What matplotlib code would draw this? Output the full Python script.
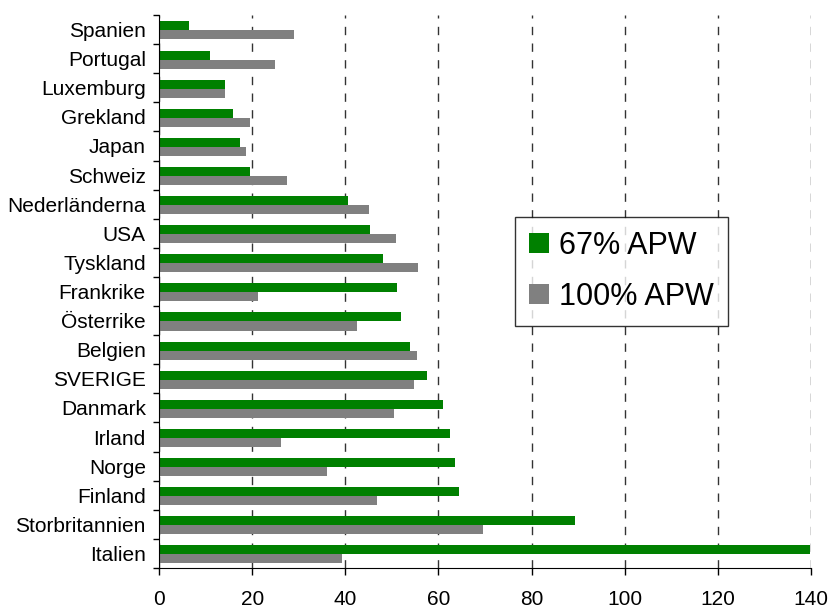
import numpy as np
import matplotlib.pyplot as plt
from matplotlib.ticker import FixedLocator

plt.rcParams['font.family'] = ['Liberation Sans', 'DejaVu Sans']

countries = ["Spanien", "Portugal", "Luxemburg", "Grekland", "Japan", "Schweiz",
             "Nederländerna", "USA", "Tyskland", "Frankrike", "Österrike",
             "Belgien", "SVERIGE", "Danmark", "Irland", "Norge", "Finland",
             "Storbritannien", "Italien"]
apw67 = [6.4, 10.9, 14.1, 15.8, 17.3, 19.5, 40.5, 45.4, 48.0, 51.0, 51.9,
         53.8, 57.5, 60.9, 62.4, 63.5, 64.5, 89.4, 139.8]
apw100 = [28.9, 25.0, 14.1, 19.5, 18.6, 27.4, 45.0, 50.8, 55.7, 21.2, 42.6,
          55.3, 54.7, 50.4, 26.1, 36.0, 46.9, 69.5, 39.2]

fig = plt.figure(figsize=(8.32, 6.08), dpi=100)
ax = fig.add_axes([159 / 832, 40 / 608, 652 / 832, 553 / 608])

y = np.arange(len(countries))
h = 0.31
ax.barh(y - h / 2 + 0.03, apw67, height=h, color="#008000", label="67% APW")
ax.barh(y + h / 2 + 0.03, apw100, height=h, color="#808080", label="100% APW")

ax.set_xlim(0, 140)
ax.set_ylim(len(countries) - 0.5, -0.5)
ax.set_xticks(range(0, 141, 20))
ax.set_yticks(y)
ax.set_yticklabels(countries)
ax.yaxis.set_minor_locator(FixedLocator(np.arange(-0.5, len(countries), 1)))
ax.tick_params(axis="y", which="major", length=0, pad=9.5, labelsize=15)
ax.tick_params(axis="y", which="minor", length=4.5, width=1)
ax.tick_params(axis="x", length=5, width=1, pad=11, labelsize=15)

for side in ("top", "right"):
    ax.spines[side].set_visible(False)

ax.set_axisbelow(True)
ax.xaxis.grid(True, color="#333333", linestyle=(0, (6, 6)), linewidth=1)

leg = ax.legend(loc="upper left", bbox_to_anchor=(0.546, 0.635),
                fontsize=22, frameon=True, fancybox=False, shadow=False,
                handlelength=0.65, handleheight=0.65, handletextpad=0.35,
                labelspacing=0.7, borderpad=0.45, borderaxespad=0)
leg.get_frame().set_edgecolor("black")
leg.get_frame().set_linewidth(1)

fig.savefig("out.png", dpi=100)
